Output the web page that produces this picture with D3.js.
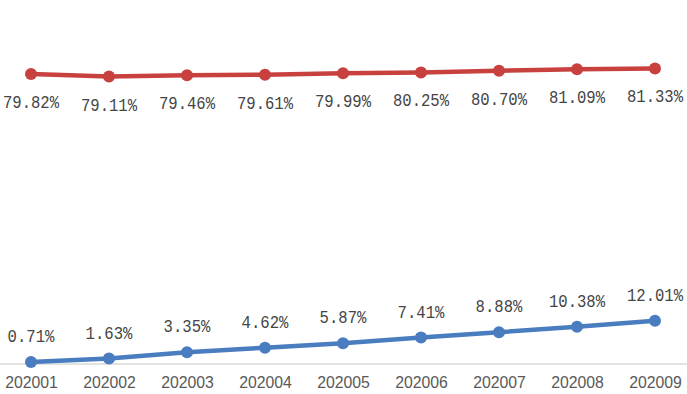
<!DOCTYPE html>
<html>
<head>
<meta charset="utf-8">
<script src="https://cdn.jsdelivr.net/npm/d3@7"></script>
<style>
  html, body { margin: 0; padding: 0; background: #fff; }
  svg { display: block; }
  .axis path { stroke: #d9d9d9; stroke-width: 1.3; }
  .axis text { font-family: "Liberation Sans", Arial, sans-serif; font-size: 15.8px; fill: #595959; }
  .lbl { font-family: "Liberation Mono", "DejaVu Sans Mono", monospace; font-size: 15.6px; fill: #454545; }
</style>
</head>
<body>
<svg id="chart" width="687" height="394"></svg>
<script>
// Monthly shares, in percent.
const months = ["202001", "202002", "202003", "202004", "202005", "202006", "202007", "202008", "202009"];
const upperSeries = [79.82, 79.11, 79.46, 79.61, 79.99, 80.25, 80.70, 81.09, 81.33];
const lowerSeries = [0.71, 1.63, 3.35, 4.62, 5.87, 7.41, 8.88, 10.38, 12.01];

const W = 687, H = 394;
const svg = d3.select("#chart");

// category axis: band centers 78px apart, first at x=31
const x = d3.scalePoint().domain(months).range([-8, 694]).padding(0.5);
const y = d3.scaleLinear().domain([0, 100]).range([364.5, 0.5]);

const axis = svg.append("g")
  .attr("class", "axis")
  .attr("transform", `translate(0,${y(0) - 1})`)
  .call(d3.axisBottom(x).tickSize(0).tickPadding(0));
axis.selectAll("text").attr("dy", null).attr("y", 24.5);

const fmt = v => v.toFixed(2) + "%";

function drawSeries(values, color, labelDy) {
  const pts = values.map((v, i) => ({ m: months[i], v }));
  const line = d3.line().x(d => x(d.m)).y(d => y(d.v));
  svg.append("path")
    .datum(pts)
    .attr("d", line)
    .attr("fill", "none")
    .attr("stroke", color)
    .attr("stroke-width", 4.5)
    .attr("stroke-linejoin", "round");
  svg.append("g").selectAll("circle").data(pts).join("circle")
    .attr("cx", d => x(d.m)).attr("cy", d => y(d.v))
    .attr("r", 6)
    .attr("fill", color);
  // labels are a little taller than the mono font, so stretch them vertically
  svg.append("g").selectAll("text").data(pts).join("text")
    .attr("class", "lbl")
    .attr("transform", d => `translate(${x(d.m)},${y(d.v) + labelDy}) scale(1,1.17)`)
    .attr("text-anchor", "middle")
    .text(d => fmt(d.v));
}

drawSeries(upperSeries, "#c8413f", 34);
drawSeries(lowerSeries, "#4a7cc0", -20);
</script>
</body>
</html>
